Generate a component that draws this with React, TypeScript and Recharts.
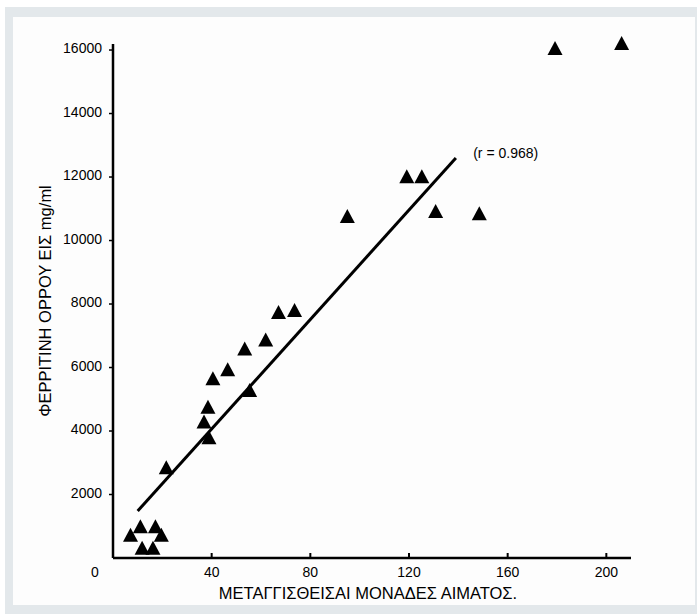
import React from 'react';
import { ScatterChart, Scatter, XAxis, YAxis, ReferenceLine, ReferenceDot } from 'recharts';

// Transfused blood units (x) and serum ferritin mg/ml (y)
const transfusedUnits = [7.1, 11.1, 17.2, 19.6, 11.8, 16.2, 21.6, 38.9, 36.9, 38.5, 55.4, 40.5, 46.5, 53.4, 61.9, 67.1, 73.6, 95, 119.1, 125.2, 130.8, 148.5, 179.2, 206.2];
const ferritin = [700, 965, 965, 700, 290, 290, 2830, 3770, 4270, 4730, 5260, 5630, 5910, 6570, 6850, 7720, 7780, 10740, 11990, 11990, 10900, 10830, 16030, 16190];

const xTicks = [0, 40, 80, 120, 160, 200];
const yTicks = [2000, 4000, 6000, 8000, 10000, 12000, 14000, 16000];

const regressionStart = { x: 10, y: 1480 };
const regressionEnd = { x: 139, y: 12600 };
const rLabel = '(r = 0.968)';

const xTitle = 'ΜΕΤΑΓΓΙΣΘΕΙΣΑΙ ΜΟΝΑΔΕΣ ΑΙΜΑΤΟΣ.';
const yTitle = 'ΦΕΡΡΙΤΙΝΗ ΟΡΡΟΥ ΕΙΣ mg/ml';

const points = transfusedUnits.map((x, i) => ({ x, y: ferritin[i] }));

const FONT = '"Liberation Sans", Arial, sans-serif';

const Triangle = (props: any) => {
  const { cx, cy } = props;
  if (cx == null || cy == null) return null;
  const pts = `${cx},${cy - 8} ${cx - 7.5},${cy + 6} ${cx + 7.5},${cy + 6}`;
  return <polygon points={pts} fill="#000" />;
};

const XTick = (props: any) => {
  const { x, y, payload } = props;
  const v = payload.value;
  if (v === 0) {
    return (
      <text x={x - 18} y={y + 19} textAnchor="middle" fontSize={14} fontFamily={FONT} fill="#000">0</text>
    );
  }
  return (
    <g>
      <line x1={x} x2={x} y1={y} y2={y - 5} stroke="#000" strokeWidth={2} />
      <text x={x} y={y + 19} textAnchor="middle" fontSize={14} fontFamily={FONT} fill="#000">{v}</text>
    </g>
  );
};

const YTick = (props: any) => {
  const { x, y, payload } = props;
  return (
    <g>
      <line x1={x} x2={x - 4} y1={y} y2={y} stroke="#000" strokeWidth={1.5} />
      <text x={x - 11} y={y + 3} textAnchor="end" fontSize={14} fontFamily={FONT} fill="#000">{payload.value}</text>
    </g>
  );
};

export default function App() {
  return (
    <div style={{ position: 'absolute', left: 0, top: 0, width: 697, height: 616, background: '#fff' }}>
      <div style={{ position: 'absolute', left: 5, top: 7, width: 692, height: 607, background: '#e3e8eb' }} />
      <div style={{ position: 'absolute', left: 13, top: 17, width: 682, height: 588, background: '#fdfdfd' }} />
      <div style={{ position: 'absolute', left: 0, top: 0 }}>
        <ScatterChart width={697} height={616} margin={{ top: 44, right: 66, bottom: 28, left: 0 }}>
          <XAxis
            type="number"
            dataKey="x"
            domain={[0, 210]}
            ticks={xTicks}
            interval={0}
            height={30}
            tickSize={0}
            tickMargin={0}
            tickLine={false}
            tick={<XTick />}
            axisLine={{ stroke: '#000', strokeWidth: 2.5 }}
            label={{ value: xTitle, position: 'insideBottom', offset: -11, dx: -4, fontSize: 16.5, fontFamily: FONT, fill: '#000' }}
          />
          <YAxis
            type="number"
            dataKey="y"
            domain={[0, 16000]}
            ticks={yTicks}
            interval={0}
            width={113}
            tickSize={0}
            tickMargin={0}
            tickLine={false}
            tick={<YTick />}
            axisLine={{ stroke: '#000', strokeWidth: 2.5 }}
            label={{ value: yTitle, angle: -90, position: 'center', dx: -11, dy: 0, fontSize: 16.5, fontFamily: FONT, fill: '#000' }}
          />
          <ReferenceLine
            segment={[regressionStart, regressionEnd]}
            stroke="#000"
            strokeWidth={3}
            ifOverflow="visible"
          />
          <ReferenceDot
            x={144}
            y={12760}
            r={0}
            fill="none"
            stroke="none"
            ifOverflow="visible"
            label={{ value: rLabel, position: 'right', fontSize: 14, fontFamily: FONT, fill: '#000' }}
          />
          <Scatter data={points} shape={<Triangle />} isAnimationActive={false} />
        </ScatterChart>
      </div>
    </div>
  );
}
